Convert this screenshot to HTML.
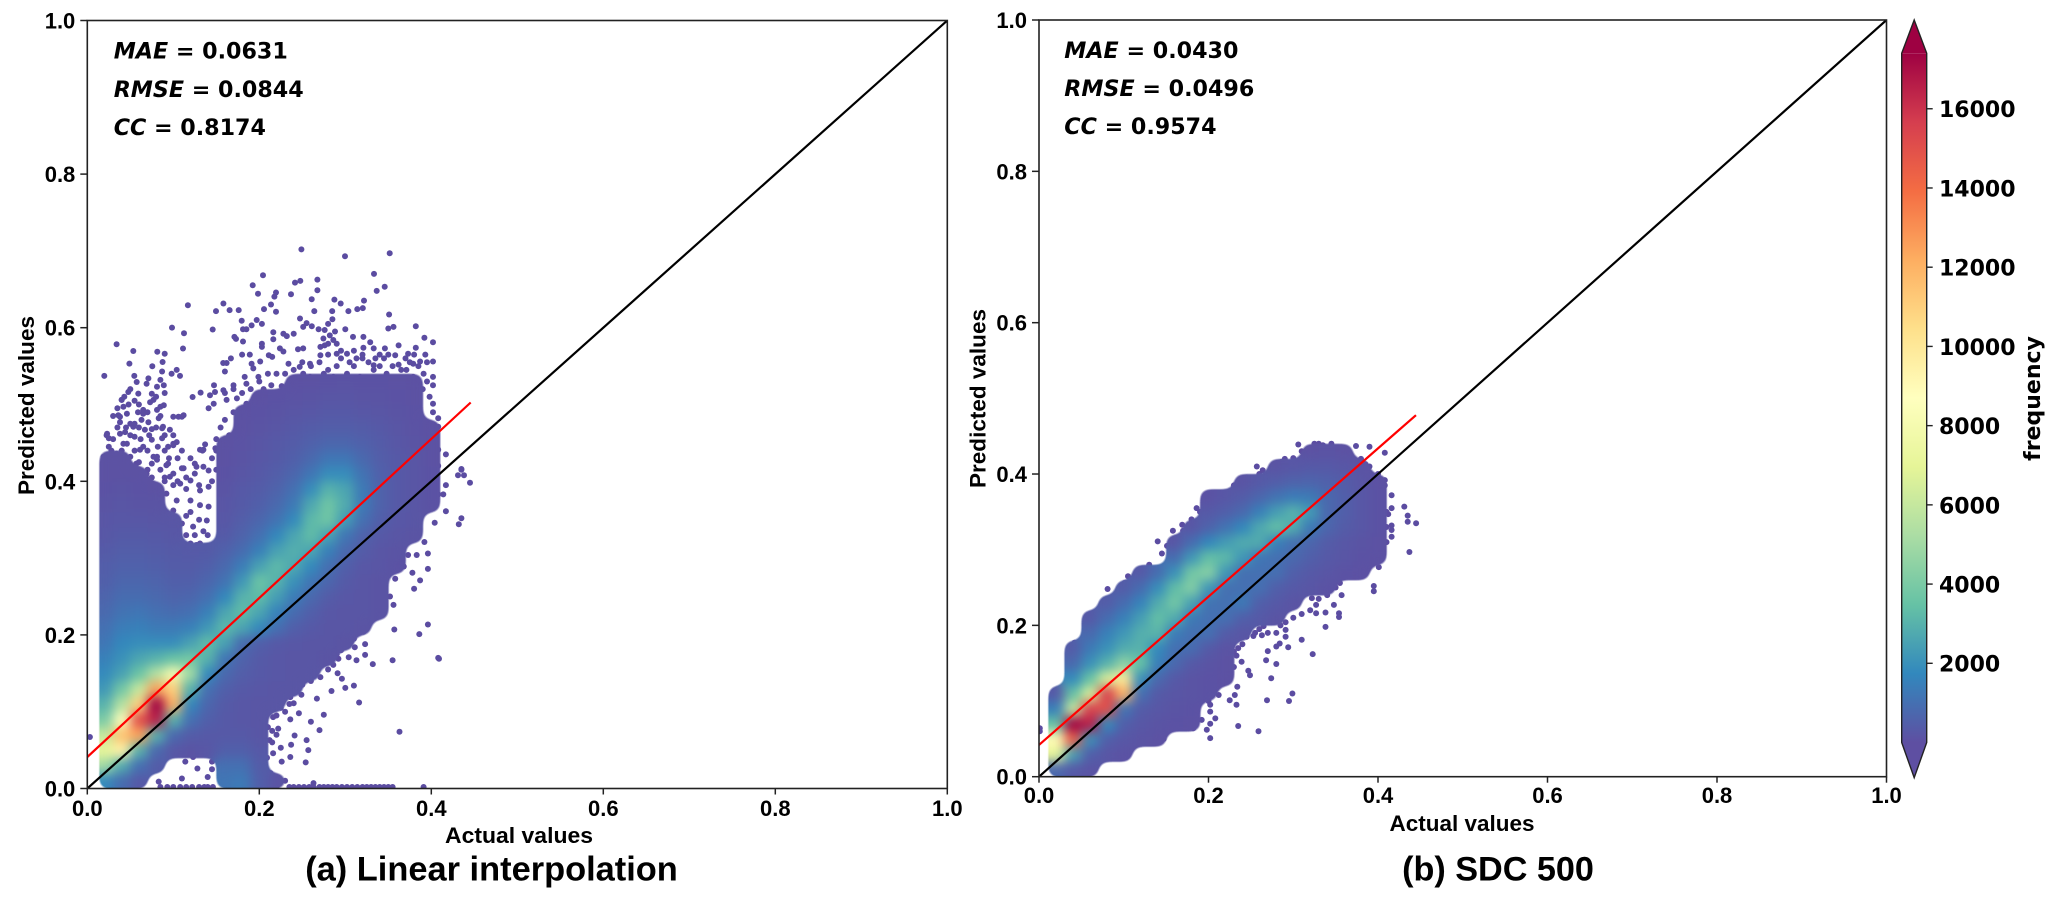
<!DOCTYPE html>
<html lang="en">
<head>
<meta charset="utf-8">
<title>Actual vs predicted density scatter</title>
<style>
html,body{margin:0;padding:0;background:#fff;}
svg{display:block;}
.sans{font-family:"Liberation Sans",Arial,sans-serif;font-weight:bold;fill:#000;}
.dj{font-family:"DejaVu Sans",sans-serif;font-weight:bold;fill:#000;}
</style>
</head>
<body>
<svg id="chart" xmlns="http://www.w3.org/2000/svg" width="2063" height="900" viewBox="0 0 2063 900">
  <defs>
    <filter id="smooth" filterUnits="userSpaceOnUse" x="0" y="0" width="2063" height="900" color-interpolation-filters="sRGB">
      <feGaussianBlur stdDeviation="5.5"/>
      <feComponentTransfer><feFuncA type="linear" slope="8" intercept="-3.5"/></feComponentTransfer>
    </filter>
    <clipPath id="clip-a"><rect x="87.3" y="20.5" width="860" height="768"/></clipPath>
    <clipPath id="clip-b"><rect x="1039" y="20" width="847.5" height="756.7"/></clipPath>
    <linearGradient id="cbar-gradient" x1="0" y1="1" x2="0" y2="0"></linearGradient>
  </defs>

  <g id="panel-a"></g>
  <g id="panel-b"></g>

  <text class="dj" x="113.7" y="58.7" font-size="22.2"><tspan font-style="italic">MAE</tspan> = 0.0631</text>
  <text class="dj" x="113.7" y="97" font-size="22.2"><tspan font-style="italic">RMSE</tspan> = 0.0844</text>
  <text class="dj" x="113.7" y="135" font-size="22.2"><tspan font-style="italic">CC</tspan> = 0.8174</text>

  <text class="dj" x="1064.3" y="58" font-size="22.2"><tspan font-style="italic">MAE</tspan> = 0.0430</text>
  <text class="dj" x="1064.3" y="96" font-size="22.2"><tspan font-style="italic">RMSE</tspan> = 0.0496</text>
  <text class="dj" x="1064.3" y="134" font-size="22.2"><tspan font-style="italic">CC</tspan> = 0.9574</text>

  <text class="sans" x="519" y="843" font-size="22" text-anchor="middle" textLength="148" lengthAdjust="spacingAndGlyphs">Actual values</text>
  <text class="sans" x="1462" y="831" font-size="22" text-anchor="middle" textLength="145" lengthAdjust="spacingAndGlyphs">Actual values</text>
  <text class="sans" transform="translate(34 405.5) rotate(-90)" font-size="22" text-anchor="middle" textLength="179" lengthAdjust="spacingAndGlyphs">Predicted values</text>
  <text class="sans" transform="translate(985.7 398.5) rotate(-90)" font-size="22" text-anchor="middle" textLength="179" lengthAdjust="spacingAndGlyphs">Predicted values</text>

  <text class="sans" x="491.5" y="880.5" font-size="34.4" text-anchor="middle">(a) Linear interpolation</text>
  <text class="sans" x="1498" y="880.5" font-size="34.2" text-anchor="middle">(b) SDC 500</text>

  <g id="colorbar"></g>
  <text class="dj" transform="translate(2040 398.5) rotate(-90)" font-size="22" text-anchor="middle">frequency</text>
</svg>

<script>
const axisTicks = [0, 0.2, 0.4, 0.6, 0.8, 1.0];
const axisTickLabels = ["0.0", "0.2", "0.4", "0.6", "0.8", "1.0"];
const colorbarTicks = [2000, 4000, 6000, 8000, 10000, 12000, 14000, 16000];
const colorbarTickLabels = ["2000", "4000", "6000", "8000", "10000", "12000", "14000", "16000"];
const colorMin = 0;
const colorMax = 17400;
const spectralStops = ["#5e4fa2", "#3288bd", "#66c2a5", "#abdda4", "#e6f598", "#ffffbf", "#fee08b", "#fdae61", "#f46d43", "#d53e4f", "#9e0142"];

const densityX = [0.02, 0.04, 0.06, 0.08, 0.10, 0.12, 0.14, 0.16, 0.18, 0.20, 0.22, 0.24, 0.26, 0.28, 0.30, 0.32, 0.34, 0.36, 0.38, 0.40, 0.42, 0.44];
const densityYA = [0.01, 0.03, 0.05, 0.07, 0.09, 0.11, 0.13, 0.15, 0.17, 0.19, 0.21, 0.23, 0.25, 0.27, 0.29, 0.31, 0.33, 0.35, 0.37, 0.39, 0.41, 0.43, 0.45, 0.47, 0.49, 0.51, 0.53];
const densityYB = [0.01, 0.03, 0.05, 0.07, 0.09, 0.11, 0.13, 0.15, 0.17, 0.19, 0.21, 0.23, 0.25, 0.27, 0.29, 0.31, 0.33, 0.35, 0.37, 0.39, 0.41, 0.43];

const densityA = [
[1800,900,300,0,0,0,0,1200,1300,500,150],
[5000,2800,1000,400,0,0,0,1000,1000,400],
[7000,9500,3000,800,250,150,250,500,500,300],
[6000,11500,12500,3000,800,400,300,300,300,200],
[4000,8500,15000,16500,3000,1000,500,300,250,200],
[3000,5500,11000,17400,12000,1700,700,350,250,200,200],
[2200,3800,6000,12500,11000,3000,1000,500,300,250,200,200],
[1800,2500,3600,5500,8000,5000,1800,800,450,300,250,200,200],
[1500,2000,2600,3000,3500,3800,3000,1200,600,350,250,200,200,150],
[1200,1700,1900,1900,1900,2500,3300,2500,900,500,300,250,200,200,150],
[1000,1400,1500,1300,1300,1500,2200,3200,2600,1800,1000,500,300,200,200,150],
[800,1100,1200,1000,900,1000,1500,2600,3300,2600,1600,900,500,250,200,200,150],
[650,900,900,800,650,700,1000,1700,3000,3300,2400,1400,800,400,250,200,150],
[500,700,700,650,500,500,700,1100,2200,3600,3000,2000,1200,700,350,200,150],
[450,550,550,500,400,400,500,800,1400,2500,3200,2700,1800,1000,500,250,200,100],
[350,450,450,400,350,300,350,550,900,1500,2500,2900,2600,1500,800,400,200,150],
[250,350,350,300,250,0,0,350,600,1000,1700,2600,3300,2500,1200,600,300,200,150],
[200,250,250,200,200,0,0,250,450,700,1100,1800,3200,3700,2300,1000,500,250,200],
[150,200,150,150,0,0,0,200,350,500,800,1300,2700,3700,2800,1300,600,300,200,100],
[100,150,100,90,0,0,0,150,300,400,600,1000,1900,3000,2600,1300,600,300,200,100],
[90,90,90,0,0,0,0,100,200,300,450,700,1200,1900,1900,1100,550,300,200,100],
[80,80,0,0,0,0,0,80,150,250,350,500,800,1200,1200,800,450,300,200,80],
[0,0,0,0,0,0,0,80,120,200,300,400,550,700,700,550,400,250,150,80],
[0,0,0,0,0,0,0,0,80,150,200,300,400,450,450,400,300,200,120,60],
[0,0,0,0,0,0,0,0,60,100,150,200,250,300,300,250,200,150,100],
[0,0,0,0,0,0,0,0,0,60,100,120,150,200,200,150,150,100,80],
[0,0,0,0,0,0,0,0,0,0,0,60,80,100,120,100,100,80,60]
];

const densityB = [
[800,300,150],
[7000,2500,500,200,100],
[9000,14500,2000,500,250,150,80],
[3500,17400,16500,1800,500,250,150,100,80],
[1500,6000,15500,15000,1200,400,250,150,100],
[300,3500,6500,15500,12000,1000,350,200,150,100],
[0,1800,3500,6500,10000,2000,800,300,150,100,60],
[0,800,2000,3000,4500,3500,1500,800,300,150,80],
[0,400,1300,2000,2800,3000,1800,1000,900,350,120],
[0,0,800,1500,2200,2900,3100,1400,1000,1000,400,200],
[0,0,300,900,1500,2400,3400,2800,1300,1000,1000,500,300,150],
[0,0,0,400,900,1600,2800,3800,2500,1100,1000,1300,500,300,150],
[0,0,0,0,400,900,1900,3300,4200,2200,1000,1000,1000,500,300,200,100],
[0,0,0,0,0,300,900,2000,3800,4300,2200,1000,1000,1000,500,300,200,100,60],
[0,0,0,0,0,0,0,900,2200,3400,3200,2200,1200,1000,800,500,300,200,100,60],
[0,0,0,0,0,0,0,200,900,1700,2300,2800,2800,1500,1000,700,400,250,150,80],
[0,0,0,0,0,0,0,0,200,600,1100,1700,2700,3400,2800,1300,700,400,250,100],
[0,0,0,0,0,0,0,0,0,300,500,800,1500,2400,3000,2300,800,500,250,100],
[0,0,0,0,0,0,0,0,0,100,250,400,700,1100,1400,1300,800,500,250,100],
[0,0,0,0,0,0,0,0,0,0,0,150,300,450,600,650,550,400,200,60],
[0,0,0,0,0,0,0,0,0,0,0,0,0,150,250,300,300,250,120],
[0,0,0,0,0,0,0,0,0,0,0,0,0,0,0,80,120,80]
];

const pointsA = [
[.249,.702],[.2997,.693],[.3516,.697],[.3334,.670],[.2043,.6684],[.1923,.6553],[.1985,.6441],[.2415,.6587],[.2477,.6609],[.2675,.6626],[.2675,.6487],[.2369,.6436],[.2194,.6458],[.2175,.6405],[.2609,.6371],[.2873,.6366],[.2946,.6315],[.3218,.6353],[.3365,.6479],[.3458,.6532],
[.117,.6293],[.1582,.6315],[.1497,.6216],[.1655,.6229],[.176,.6229],[.2055,.6242],[.2136,.6302],[.2194,.6207],[.264,.6216],[.2848,.6216],[.3036,.6216],[.314,.6242],[.3203,.6255],[.3509,.6172],[.0985,.6001],[.1124,.5927],[.0341,.5784],[.0535,.5697],[.0814,.5688],[.09,.5662],[.0489,.5533],[.0756,.5498],[.0876,.5554],[.1113,.5729],[.1458,.5976],[.0198,.5372],[.0547,.5372],[.1078,.5372],[.0574,.5293],[.0477,.5163],[.0593,.5142],[.1225,.5098],[.1318,.5155],[.1473,.525],[.1427,.512],[.1582,.5185],[.1485,.5163],
[.1729,.5854],[.1795,.609],[.191,.603],[.197,.61],[.203,.605],[.181,.598],[.185,.598],[.171,.588],[.181,.582],[.203,.579],[.203,.575],[.2163,.594],[.2163,.585],[.228,.592],[.232,.589],[.24,.592],[.2473,.612],[.251,.601],[.255,.606],[.261,.602],[.269,.598],[.276,.597],[.28,.605],[.285,.611],[.3,.598],[.309,.588],[.321,.588],[.329,.581],[.35,.599],[.356,.601],[.382,.602],[.392,.587],[.402,.581],[.362,.577],[.382,.574],[.346,.573],[.333,.573],[.321,.574],[.245,.572],[.251,.573],[.224,.573],[.228,.569],[.211,.564],[.189,.565],[.18,.565],[.167,.56],[.158,.554],[.162,.554],
[.2745,.586],[.282,.59],[.288,.595],[.28,.579],[.29,.579],[.271,.575],[.286,.584],[.276,.577],
[.191,.553],[.201,.556],[.215,.562],[.234,.553],[.247,.549],[.259,.553],[.271,.564],[.29,.566],[.302,.566],[.313,.56],[.327,.555],[.333,.551],[.345,.56],[.358,.564],[.373,.566],[.393,.565],[.402,.556],[.362,.552],[.379,.553],[.387,.556],
[.16,.543],[.183,.536],[.193,.547],[.17,.525],[.185,.527],[.199,.536],[.214,.525],[.226,.524],[.24,.527],[.251,.54],[.259,.536],[.271,.532],[.286,.536],[.302,.54],[.317,.536],[.333,.545],[.348,.54],[.371,.545],[.379,.536],[.391,.54],[.402,.536],[.402,.525],
[.162,.506],[.174,.508],[.185,.501],[.197,.51],[.209,.501],[.22,.51],[.232,.497],[.24,.514],[.247,.506],[.147,.501],[.141,.495],[.398,.51],[.402,.501],[.402,.49],[.408,.482],[.408,.471],[.404,.454],[.408,.441],[.417,.435],[.402,.432],[.408,.42],[.435,.416],
[.04,.506],[.042,.497],[.036,.486],[.046,.488],[.059,.49],[.065,.493],[.073,.503],[.085,.497],[.089,.499],[.083,.482],[.038,.477],[.05,.475],[.063,.48],[.071,.477],[.087,.469],[.096,.467],[.1,.484],[.106,.484],[.112,.486],[.023,.462],[.025,.456],[.038,.462],[.044,.464],[.055,.458],[.067,.467],[.075,.454],[.087,.456],[.1,.449],[.104,.451],[.137,.448],[.134,.44],[.149,.443],[.094,.445],[.021,.432],[.028,.44],[.042,.449],[.05,.432],[.065,.445],[.081,.432],[.094,.423],[.112,.417],[.125,.423],[.135,.419],[.038,.423],[.057,.423],[.075,.423],[.023,.423],
[.087,.543],[.085,.532],[.089,.525],[.098,.54],[.104,.545],[.071,.534],[.069,.527],[.081,.523],[.075,.514],[.077,.506],
[.0225,.46],[.04,.506],[.038,.484],[.0535,.471],[.065,.488],[.081,.493],[.088,.471],[.1,.447],[.11,.484],[.019,.432],[.034,.436],[.046,.449],[.0613,.441],[.077,.432],[.092,.421],[.131,.441],[.135,.441],[.019,.404],[.03,.412],[.042,.406],[.0535,.419],[.069,.41],[.081,.428],[.096,.406],[.11,.417],[.127,.419],[.141,.414],[.0225,.38],[.092,.384],[.108,.397],[.12,.401],[.131,.388],[.141,.393],[.104,.375],[.12,.375],[.131,.369],[.141,.367],[.1,.362],[.11,.345],[.123,.341],[.139,.349],[.127,.317],[.12,.319],[.131,.319],[.06,.41],[.075,.395],[.085,.385],[.07,.38],[.09,.405],
[.408,.17],[.396,.2135],[.386,.201],[.357,.207],[.355,.167],[.363,.074],[.396,.286],[.387,.271],[.38,.26],[.378,.281],[.332,.162],[.323,.174],[.323,.188],[.316,.112],[.31,.134],[.3,.131],[.284,.127],[.296,.143],[.291,.15],[.286,.161],[.282,.165],[.313,.167],[.304,.171],[.292,.169],[.267,.117],[.275,.096],[.26,.087],[.27,.076],[.249,.122],[.246,.098],[.236,.09],[.241,.069],[.255,.063],[.257,.05],[.237,.057],[.225,.053],[.236,.041],[.254,.034],[.226,.035],[.216,.046],[.209,.04],[.203,.048],[.263,.007],[.23,.01],[.222,.013],[.128,.026],[.11,.013],[.083,.009],[.003,.067],[.271,.145],[.263,.154],[.25,.145],[.236,.141],[.248,.15],[.228,.139],[.236,.119],[.24,.111],[.216,.093],[.201,.083],[.222,.078],[.212,.063],[.197,.033],[.193,.022],[.205,.028],[.213,.02],[.207,.015],[.189,.011],[.356,.239],[.352,.25],[.358,.273],[.34,.234],[.333,.221],[.321,.204],[.311,.184],[.114,.035],[.123,.041],[.104,.046],[.133,.059],[.139,.072],
[.445,.398],[.435,.415],[.431,.408],[.438,.408],[.417,.395],[.414,.383],[.408,.383],[.417,.361],[.403,.375],[.404,.346],[.435,.352],[.432,.344],[.398,.364],[.392,.321],[.396,.306],[.373,.304],[.383,.304],[.368,.289],[.409,.169],
[.025,.445],[.03,.455],[.035,.47],[.045,.47],[.05,.46],[.04,.44],[.055,.44],[.06,.47],[.062,.455],[.07,.44],[.072,.46],[.08,.47],[.082,.445],[.09,.46],[.09,.44],[.095,.43],[.105,.43],[.03,.425],[.045,.425],[.06,.425],[.07,.415],[.085,.415],[.1,.41],[.115,.405],[.125,.41],[.13,.395],[.115,.39],[.1,.395],[.085,.375],[.12,.36],[.13,.35],[.115,.355],[.105,.35],[.125,.33],[.135,.335],[.14,.33],[.115,.33],[.055,.505],[.05,.52],[.06,.5],[.07,.49],[.08,.51],[.085,.485],[.09,.515],[.048,.5],[.043,.51],[.035,.495],[.03,.485],[.055,.475],[.075,.468],[.1,.46],[.11,.44],[.12,.43],[.105,.4],[.09,.4],[.075,.405],[.055,.395],[.04,.42],
[.15,.455],[.155,.47],[.16,.48],[.165,.46],[.17,.49],[.175,.47],[.18,.485],[.185,.475],[.19,.495],[.195,.48],[.2,.49],[.205,.52],[.21,.515],[.215,.505],[.225,.515],[.23,.505],[.235,.52],[.245,.52],[.25,.53],[.255,.52],[.26,.525],[.265,.535],[.275,.54],[.28,.545],[.29,.55],[.295,.56],[.305,.555],[.31,.55],[.32,.56],[.335,.56],[.34,.55],[.355,.55],[.365,.545],[.375,.555],[.385,.55],[.395,.53],[.39,.52],[.15,.44],[.145,.43],[.15,.415],[.145,.4],[.155,.425],[.16,.515],[.17,.52],[.18,.515],[.19,.52],[.2,.53],[.21,.54],[.22,.54],[.23,.54],[.24,.545],[.25,.555],[.26,.55],[.27,.555],[.28,.565],[.295,.57],[.31,.57],[.32,.565],[.34,.565],[.35,.565],[.37,.56],[.38,.565],[.395,.555],
[.205,.07],[.21,.08],[.215,.075],[.205,.09],[.21,.1],[.22,.095],[.225,.105],[.23,.1],[.235,.11],[.24,.125],[.245,.13],[.25,.135],[.255,.15],[.26,.14],[.265,.16],[.27,.16],[.275,.17],[.28,.155],[.29,.175],[.295,.18],[.3,.185],[.31,.195],[.32,.215],[.33,.23],[.215,.06],[.22,.07],[.195,.06],[.2,.055],[.19,.045],[.145,.025],[.14,.015],[.145,.035]
];

const bottomStripA = [.085,.093,.1,.108,.115,.122,.13,.136,.14,.146,.22,.235,.24,.246,.252,.258,.263,.27,.275,.28,.285,.29,.296,.302,.308,.314,.32,.325,.33,.335,.34,.345,.35,.355,.391];

const pointsB = [
[.445,.335],[.437,.297],[.435,.345],[.435,.337],[.431,.357],[.416,.372],[.416,.355],[.412,.347],[.416,.332],[.416,.326],[.416,.317],[.408,.428],[.408,.392],[.408,.385],[.401,.377],[.401,.277],[.401,.292],[.395,.252],[.395,.245],[.39,.436],[.374,.437],[.385,.413],[.325,.44],[.306,.439],[.335,.438],[.347,.434],[.356,.432],[.363,.418],
[.257,.41],[.264,.405],[.286,.416],[.3,.421],[.239,.393],[.249,.392],[.256,.391],[.205,.374],[.198,.372],[.186,.355],[.203,.358],[.215,.366],[.225,.374],[.169,.333],[.158,.325],[.14,.311],[.151,.305],[.122,.275],[.105,.265],[.101,.256],[.119,.256],[.081,.248],[.107,.247],[.083,.231],[.042,.177],[.04,.168],[.054,.179],[.04,.159],[.025,.093],[.001,.064],[.001,.06],[.017,.08],
[.355,.256],[.357,.24],[.339,.253],[.348,.26],[.338,.198],[.348,.227],[.338,.217],[.354,.216],[.354,.211],[.327,.216],[.327,.227],[.322,.236],[.31,.181],[.323,.162],[.294,.171],[.284,.176],[.28,.172],[.291,.185],[.291,.194],[.291,.204],[.265,.199],[.253,.186],[.263,.187],[.27,.166],[.268,.154],[.28,.149],[.247,.14],[.249,.134],[.274,.13],[.299,.11],[.295,.1],[.269,.101],[.259,.06],[.235,.067],[.234,.119],[.231,.108],[.225,.101],[.233,.095],[.239,.152],[.233,.16],[.221,.154],[.21,.163],[.206,.172],[.202,.095],[.202,.086],[.208,.077],[.202,.07],[.198,.062],[.202,.051],[.192,.075],[.184,.088],[.174,.077],[.182,.064],[.147,.05],[.137,.049],[.113,.051],[.1,.041],[.075,.026],[.048,.018],[.025,.014],[.217,.132],[.21,.119],[.212,.108],[.225,.168],[.233,.181],[.221,.194],[.237,.194],
[.19,.1],[.195,.115],[.2,.125],[.205,.135],[.215,.145],[.22,.13],[.205,.15],[.19,.13],[.175,.095],[.165,.075],[.155,.065],[.14,.06],[.125,.055],[.105,.05],[.09,.04],[.07,.03],[.055,.025],[.035,.015],[.2,.1],[.215,.125],[.225,.135],[.23,.145],[.235,.17],[.23,.165],[.24,.175],[.245,.185],[.255,.19],[.26,.195],[.27,.19],[.28,.19],[.285,.2],[.3,.21],[.31,.215],[.32,.22],[.33,.235],[.34,.24],[.35,.25],[.36,.265],[.375,.27],[.385,.275],[.39,.28],
[.03,.11],[.035,.125],[.04,.14],[.048,.155],[.055,.17],[.06,.19],[.07,.205],[.08,.22],[.09,.235],[.1,.25],[.115,.262],[.13,.28],[.145,.295],[.16,.31],[.17,.325],[.18,.34],[.19,.35],[.2,.36],[.215,.375],[.23,.385],[.245,.395],[.26,.4],[.275,.41],[.29,.42],[.31,.43],[.33,.44],[.345,.44],[.365,.43],[.38,.42],[.39,.41],[.4,.4],[.405,.37],[.41,.35],[.41,.33],[.41,.31],[.405,.295],[.4,.285]
];

const identityLine = [[0, 0], [1, 1]];
const fitLineA = [[0, 0.041], [0.4458, 0.5026]];
const fitLineB = [[0, 0.042], [0.4448, 0.4778]];

const SVGNS = "http://www.w3.org/2000/svg";

function create(tag, parent) {
  const el = document.createElementNS(SVGNS, tag);
  parent.appendChild(el);
  return el;
}

function hexToRgb(hex) {
  return [parseInt(hex.slice(1, 3), 16), parseInt(hex.slice(3, 5), 16), parseInt(hex.slice(5, 7), 16)];
}

function colorFor(value) {
  const t = Math.min(1, Math.max(0, (value - colorMin) / (colorMax - colorMin)));
  const pos = t * (spectralStops.length - 1);
  const i = Math.min(spectralStops.length - 2, Math.floor(pos));
  const f = pos - i;
  const a = hexToRgb(spectralStops[i]);
  const b = hexToRgb(spectralStops[i + 1]);
  return "rgb(" + Math.round(a[0] + (b[0] - a[0]) * f) + "," + Math.round(a[1] + (b[1] - a[1]) * f) + "," + Math.round(a[2] + (b[2] - a[2]) * f) + ")";
}

function drawPanel(cfg) {
  const root = document.getElementById(cfg.id);
  const sx = function (v) { return cfg.left + v * (cfg.right - cfg.left); };
  const sy = function (v) { return cfg.bottom - v * (cfg.bottom - cfg.top); };

  const plot = create("g", root);
  plot.setAttribute("clip-path", "url(#" + cfg.clip + ")");
  
  

  const dots = create("g", plot);
  dots.setAttribute("fill", "#5b4ca1");
  
  
  cfg.points.forEach(function (p) {
    const c = create("circle", dots);
    c.setAttribute("cx", sx(p[0]).toFixed(1));
    c.setAttribute("cy", sy(p[1]).toFixed(1));
    c.setAttribute("r", "3");
    
    
  });
  cfg.strip.forEach(function (x) {
    const c = create("circle", dots);
    c.setAttribute("cx", sx(x).toFixed(1));
    c.setAttribute("cy", sy(0.002).toFixed(1));
    c.setAttribute("r", "3");
    
    
  });

  const heat = create("g", plot);
  heat.setAttribute("filter", "url(#smooth)");
  
  
  const halfX = 0.01;
  const halfY = 0.01;
  cfg.density.forEach(function (row, r) {
    row.forEach(function (value, c) {
      if (!value) return;
      const x0 = sx(Math.max(densityX[c] - halfX, cfg.minX));
      const x1 = sx(densityX[c] + halfX);
      const y0 = sy(cfg.ys[r] + halfY);
      const y1 = sy(cfg.ys[r] - halfY);
      const cell = create("rect", heat);
      cell.setAttribute("x", x0.toFixed(1));
      cell.setAttribute("y", y0.toFixed(1));
      cell.setAttribute("width", (x1 - x0 + 0.4).toFixed(1));
      cell.setAttribute("height", (y1 - y0 + 0.4).toFixed(1));
      cell.setAttribute("fill", colorFor(value));
      
      
    });
  });

  const ref = create("line", plot);
  ref.setAttribute("x1", sx(identityLine[0][0]));
  ref.setAttribute("y1", sy(identityLine[0][1]));
  ref.setAttribute("x2", sx(identityLine[1][0]));
  ref.setAttribute("y2", sy(identityLine[1][1]));
  ref.setAttribute("stroke", "#000");
  ref.setAttribute("stroke-width", "2.2");
  
  

  const fit = create("line", plot);
  fit.setAttribute("x1", sx(cfg.fit[0][0]));
  fit.setAttribute("y1", sy(cfg.fit[0][1]));
  fit.setAttribute("x2", sx(cfg.fit[1][0]));
  fit.setAttribute("y2", sy(cfg.fit[1][1]));
  fit.setAttribute("stroke", "#f00");
  fit.setAttribute("stroke-width", "2.2");
  
  

  const frame = create("rect", root);
  frame.setAttribute("x", cfg.left);
  frame.setAttribute("y", cfg.top);
  frame.setAttribute("width", cfg.right - cfg.left);
  frame.setAttribute("height", cfg.bottom - cfg.top);
  frame.setAttribute("fill", "none");
  frame.setAttribute("stroke", "#222");
  frame.setAttribute("stroke-width", "1.6");
  
  

  axisTicks.forEach(function (v, i) {
    const xt = create("line", root);
    xt.setAttribute("x1", sx(v));
    xt.setAttribute("x2", sx(v));
    xt.setAttribute("y1", cfg.bottom);
    xt.setAttribute("y2", cfg.bottom + 6);
    xt.setAttribute("stroke", "#222");
    xt.setAttribute("stroke-width", "1.5");
    
    

    const xl = create("text", root);
    xl.setAttribute("class", "sans");
    xl.setAttribute("x", sx(v));
    xl.setAttribute("y", cfg.xLabelY);
    xl.setAttribute("font-size", "22");
    xl.setAttribute("text-anchor", "middle");
    
    
    xl.textContent = axisTickLabels[i];

    const yt = create("line", root);
    yt.setAttribute("x1", cfg.left - 7);
    yt.setAttribute("x2", cfg.left);
    yt.setAttribute("y1", sy(v));
    yt.setAttribute("y2", sy(v));
    yt.setAttribute("stroke", "#222");
    yt.setAttribute("stroke-width", "1.5");
    
    

    const yl = create("text", root);
    yl.setAttribute("class", "sans");
    yl.setAttribute("x", cfg.left - 12);
    yl.setAttribute("y", sy(v) + 8);
    yl.setAttribute("font-size", "22");
    yl.setAttribute("text-anchor", "end");
    
    
    yl.textContent = axisTickLabels[i];
  });
}

drawPanel({ id: "panel-a", clip: "clip-a", left: 87.3, right: 947.3, top: 20.5, bottom: 788.5, xLabelY: 816, minX: 0.014, density: densityA, ys: densityYA, points: pointsA, strip: bottomStripA, fit: fitLineA });
drawPanel({ id: "panel-b", clip: "clip-b", left: 1039, right: 1886.5, top: 20, bottom: 776.7, xLabelY: 803, minX: 0.011, density: densityB, ys: densityYB, points: pointsB, strip: [], fit: fitLineB });

function drawColorbar() {
  const root = document.getElementById("colorbar");
  const grad = document.getElementById("cbar-gradient");
  spectralStops.forEach(function (color, i) {
    const st = create("stop", grad);
    st.setAttribute("offset", i / (spectralStops.length - 1));
    st.setAttribute("stop-color", color);
  });
  const left = 1901.7;
  const right = 1926.7;
  const mid = (left + right) / 2;
  const vy = function (v) { return 663.3 - (v - 2000) * 0.03961; };
  const topY = vy(colorMax);
  const botY = vy(colorMin);

  const upper = create("polygon", root);
  upper.setAttribute("points", left + "," + topY + " " + mid + ",20 " + right + "," + topY);
  upper.setAttribute("fill", spectralStops[spectralStops.length - 1]);
  
  

  const lower = create("polygon", root);
  lower.setAttribute("points", left + "," + botY + " " + mid + ",777.7 " + right + "," + botY);
  lower.setAttribute("fill", spectralStops[0]);
  
  

  const body = create("rect", root);
  body.setAttribute("x", left);
  body.setAttribute("y", topY);
  body.setAttribute("width", right - left);
  body.setAttribute("height", botY - topY);
  body.setAttribute("fill", "url(#cbar-gradient)");
  
  

  const outline = create("polygon", root);
  outline.setAttribute("points", left + "," + topY + " " + mid + ",20 " + right + "," + topY + " " + right + "," + botY + " " + mid + ",777.7 " + left + "," + botY);
  outline.setAttribute("fill", "none");
  outline.setAttribute("stroke", "#222");
  outline.setAttribute("stroke-width", "1.4");
  
  

  colorbarTicks.forEach(function (v, i) {
    const t = create("line", root);
    t.setAttribute("x1", right);
    t.setAttribute("x2", right + 6);
    t.setAttribute("y1", vy(v));
    t.setAttribute("y2", vy(v));
    t.setAttribute("stroke", "#222");
    t.setAttribute("stroke-width", "1.4");
    
    

    const l = create("text", root);
    l.setAttribute("class", "dj");
    l.setAttribute("x", 1939);
    l.setAttribute("y", vy(v) + 8.4);
    l.setAttribute("font-size", "22");
    
    
    l.textContent = colorbarTickLabels[i];
  });
}
drawColorbar();
</script>
</body>
</html>
